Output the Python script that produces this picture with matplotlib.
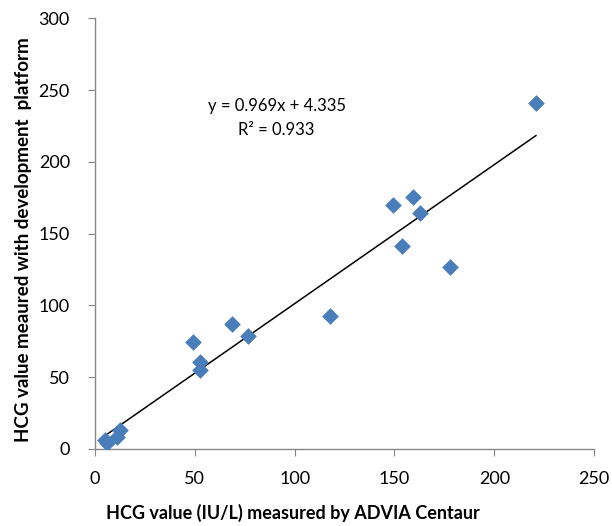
import matplotlib
matplotlib.use("Agg")
import matplotlib.pyplot as plt
import numpy as np

# HCG values: ADVIA Centaur (x) vs development platform (y)
advia = [5.0, 5.9, 10.9, 12.5, 48.9, 52.6, 52.6, 68.5, 76.8, 117.7,
         149.4, 153.7, 159.4, 162.7, 177.9, 220.8]
platform = [6.3, 4.0, 8.6, 13.2, 74.7, 60.8, 55.0, 86.9, 78.9, 92.8,
            169.7, 141.4, 175.7, 164.6, 127.0, 241.2]

slope, intercept = 0.969, 4.335
r2 = 0.933

plt.rcParams['font.family'] = ['Lato', 'DejaVu Sans']

fig = plt.figure(figsize=(6.12, 5.26), dpi=100)
ax = fig.add_axes([0.155, 0.1464, 0.816, 0.8188])

ax.scatter(advia, platform, marker='D', s=8.5**2, color='#4A7EBB', zorder=3,
           linewidths=0)

xs = np.array([min(advia), max(advia)])
ax.plot(xs, slope * xs + intercept, color='black', lw=1.1, zorder=2)

# trendline label
ax.text(91, 239, f"y = {slope}x + {intercept}", fontsize=12, ha='center', va='center')
ax.text(91, 222, f"R² = {r2}", fontsize=12, ha='center', va='center')

ax.set_xlim(0, 250)
ax.set_ylim(0, 300)
ax.set_xticks(range(0, 251, 50))
ax.set_yticks(range(0, 301, 50))
for s in ['top', 'right']:
    ax.spines[s].set_visible(False)
for s in ['left', 'bottom']:
    ax.spines[s].set_color('#868686')
    ax.spines[s].set_linewidth(1.0)
ax.tick_params(direction='out', length=5, color='#868686', labelsize=13)
ax.tick_params(axis='x', pad=11)
ax.tick_params(axis='y', pad=13)

ax.set_xlabel("HCG value (IU/L) measured by ADVIA Centaur", fontsize=13,
              fontweight='bold')
ax.set_ylabel("HCG value meaured with development  platform", fontsize=13.5,
              fontweight='bold')
ax.xaxis.set_label_coords(0.397, -0.128)
ax.yaxis.set_label_coords(-0.125, 0.485)

fig.savefig("out.png", dpi=100)
